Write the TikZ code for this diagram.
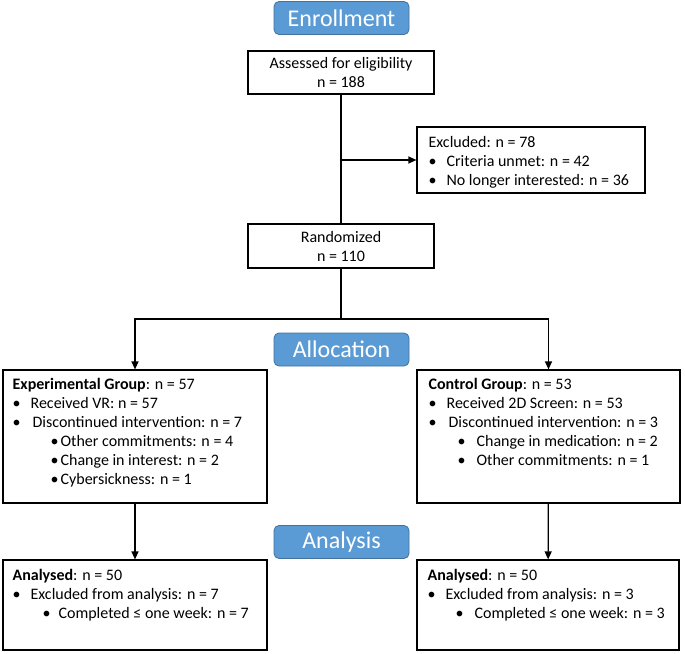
\documentclass[tikz,border=0pt]{standalone}
\usepackage{fontspec}
\setmainfont{Carlito}
\usetikzlibrary{arrows.meta}
\definecolor{stage_blue}{RGB}{91,155,213}
\definecolor{stage_edge}{RGB}{65,113,156}
\newcommand{\itm}[3]{\hspace*{#1}\makebox[#2][l]{\textbullet}#3}

\begin{document}
\begin{tikzpicture}[x=1pt,y=-1pt,line width=1.2pt,>={Triangle[length=8pt,width=7pt]}]
    \tikzstyle{stage}=[draw=stage_edge, line width=0.8pt, fill=stage_blue, rounded corners=5pt, minimum width=135pt, minimum height=33pt, text=white, font=\fontsize{24}{28}\selectfont]
    \tikzstyle{box}=[draw=black, inner sep=0pt, align=center, font=\fontsize{16}{19}\selectfont]
    \tikzstyle{list}=[anchor=north west, align=left, inner sep=0pt, font=\fontsize{16}{19}\selectfont]

    \useasboundingbox (0,0) rectangle (685,653);

    % stage labels
    \node[stage] (enroll) at (341.5,18)    {Enrollment};
    \node[stage] (alloc)  at (341.5,349.5) {Allocation};
    \node[stage] (anal)   at (341.5,542)   {Analysis};

    % enrollment
    \node[box, minimum width=186pt, minimum height=43pt] (assess) at (341,72.5) {Assessed for eligibility\\ n = 188};
    \node[box, minimum width=228pt, minimum height=66pt] (excl) at (531,160) {};
    \node[list] (exclText) at (428,136) {Excluded: n = 78\\
        \itm{0pt}{18pt}{Criteria unmet: n = 42}\\
        \itm{0pt}{18pt}{No longer interested: n = 36}};
    \node[box, minimum width=186pt, minimum height=44pt] (rand) at (341,246) {Randomized\\ n = 110};

    % allocation
    \node[box, minimum width=264pt, minimum height=133pt] (exp) at (135,436.5) {};
    \node[list] (expText) at (12,378) {\textbf{Experimental Group}: n = 57\\
        \itm{0pt}{18pt}{Received VR: n = 57}\\
        \itm{0pt}{20pt}{Discontinued intervention: n = 7}\\
        \itm{38pt}{10pt}{Other commitments: n = 4}\\
        \itm{38pt}{10pt}{Change in interest: n = 2}\\
        \itm{38pt}{10pt}{Cybersickness: n = 1}};
    \node[box, minimum width=263pt, minimum height=133pt] (ctrl) at (548.5,436.5) {};
    \node[list] (ctrlText) at (428,378) {\textbf{Control Group}: n = 53\\
        \itm{0pt}{18pt}{Received 2D Screen: n = 53}\\
        \itm{0pt}{20pt}{Discontinued intervention: n = 3}\\
        \itm{29pt}{19pt}{Change in medication: n = 2}\\
        \itm{29pt}{19pt}{Other commitments: n = 1}};

    % analysis
    \node[box, minimum width=264pt, minimum height=90pt] (an1) at (135,605) {};
    \node[list] (an1Text) at (12,569) {\textbf{Analysed}: n = 50\\
        \itm{0pt}{18pt}{Excluded from analysis: n = 7}\\
        \itm{30pt}{16pt}{Completed ≤ one week: n = 7}};
    \node[box, minimum width=262pt, minimum height=90pt] (an2) at (548,605) {};
    \node[list] (an2Text) at (427,569) {\textbf{Analysed}: n = 50\\
        \itm{0pt}{18pt}{Excluded from analysis: n = 3}\\
        \itm{28pt}{19pt}{Completed ≤ one week: n = 3}};

    % connectors
    \coordinate (branch) at (assess.south |- excl.west);
    \coordinate (split) at (341,319);
    \draw (assess) -- (rand);
    \draw[->] (branch) -- (excl.west);
    \draw (rand) -- (split);
    \draw[->] (split) -| (exp.north);
    \draw[->] (split) -| (ctrl.north);
    \draw[->] (exp) -- (an1);
    \draw[->] (ctrl) -- (an2);
\end{tikzpicture}
\end{document}
